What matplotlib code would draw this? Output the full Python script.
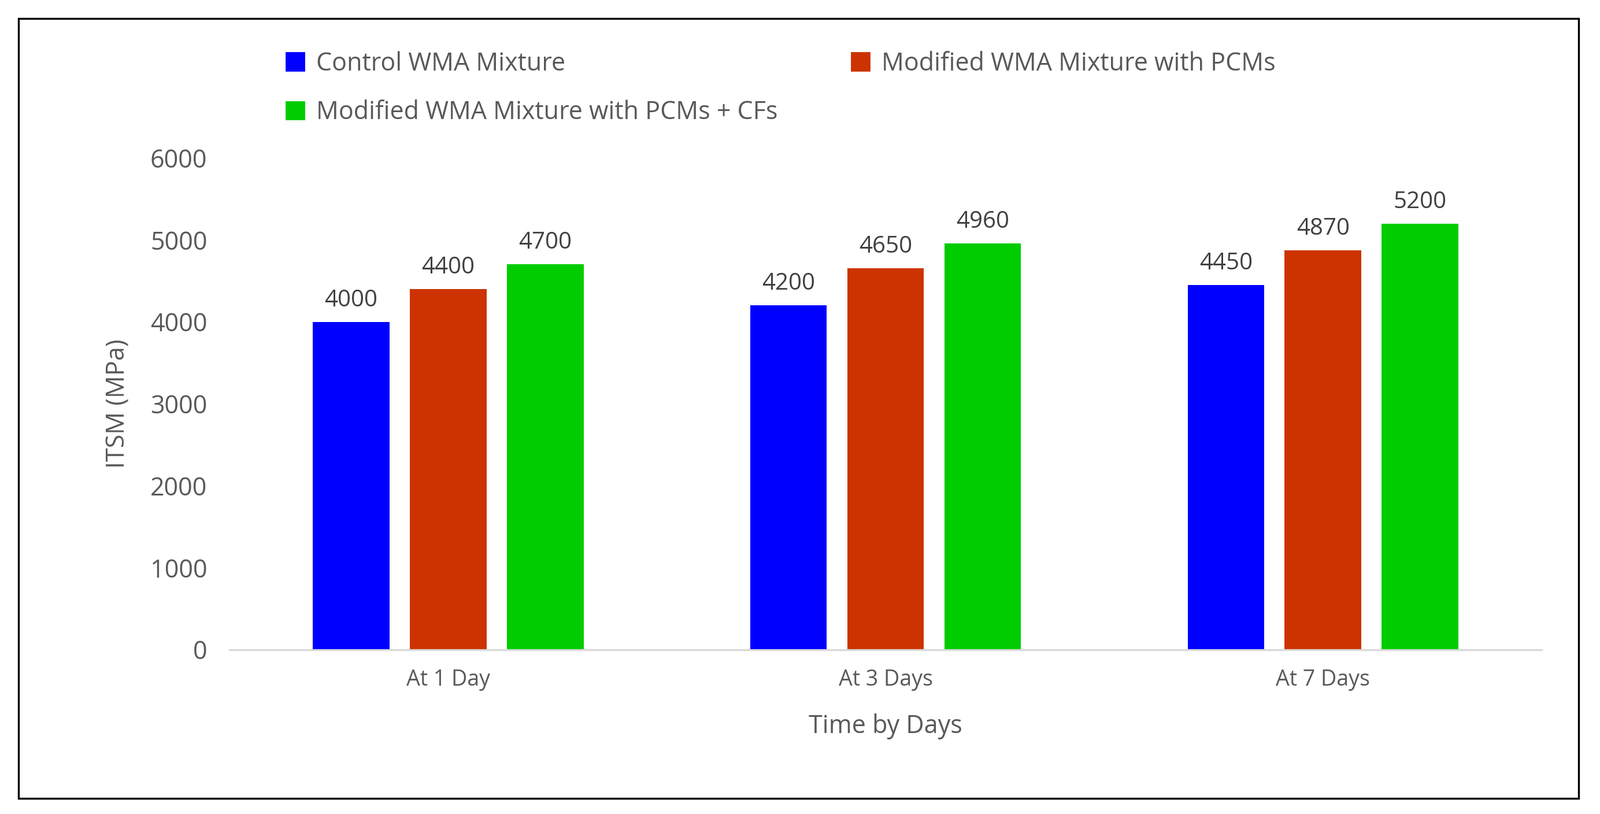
import matplotlib
matplotlib.use("Agg")
import matplotlib.pyplot as plt
import numpy as np
from matplotlib.patches import Rectangle

categories = ["At 1 Day", "At 3 Days", "At 7 Days"]
series_names = ["Control WMA Mixture", "Modified WMA Mixture with PCMs",
                "Modified WMA Mixture with PCMs + CFs"]
values = [
    [4000, 4200, 4450],
    [4400, 4650, 4870],
    [4700, 4960, 5200],
]
colors = ["#0000FF", "#CC3300", "#00CC00"]
text_c = "#595959"
plt.rcParams["font.family"] = ["Open Sans", "DejaVu Sans"]

fig = plt.figure(figsize=(13.84, 7.04), dpi=200)
fig.patches.append(Rectangle((0.0115, 0.019), 0.975, 0.958, transform=fig.transFigure,
                             fill=False, edgecolor="black", linewidth=1.2))
ax = fig.add_axes([0.1435, 0.202, 0.82, 0.604])

x = np.arange(len(categories))
w = 0.175
off = 0.222
for i, (name, vals) in enumerate(zip(series_names, values)):
    pos = x + (i - 1) * off
    ax.bar(pos, vals, width=w, color=colors[i], label=name)
    for p, v in zip(pos, vals):
        ax.text(p, v + 120, str(v), ha="center", va="bottom", fontsize=14.5, color="#404040")

ax.set_xlim(-0.5, 2.5)
ax.set_ylim(0, 6000)
ax.set_yticks(range(0, 6001, 1000))
ax.set_xticks(x)
ax.set_xticklabels(categories, fontsize=13.5, color=text_c)
ax.tick_params(axis="y", labelsize=15.5, colors=text_c, length=0, pad=14)
ax.tick_params(axis="x", length=0, pad=12)
for s in ["top", "right", "left"]:
    ax.spines[s].set_visible(False)
ax.spines["bottom"].set_color("#D9D9D9")
ax.spines["bottom"].set_linewidth(1.2)
ax.set_ylabel("ITSM (MPa)", fontsize=15.5, color=text_c, labelpad=12)
ax.set_xlabel("Time by Days", fontsize=15.5, color=text_c, labelpad=14)

handles = [Rectangle((0, 0), 1, 1, color=c) for c in colors]
fig.legend(handles[:2], series_names[:2], loc="upper left", bbox_to_anchor=(0.165, 0.965),
           ncol=2, frameon=False, fontsize=15.5, labelcolor=text_c, handlelength=0.7,
           handleheight=0.7, columnspacing=11.5, handletextpad=0.5)
fig.legend(handles[2:], series_names[2:], loc="upper left", bbox_to_anchor=(0.165, 0.905),
           frameon=False, fontsize=15.5, labelcolor=text_c, handlelength=0.7,
           handleheight=0.7, handletextpad=0.5)

fig.savefig("out.png", dpi=200, facecolor="white")
